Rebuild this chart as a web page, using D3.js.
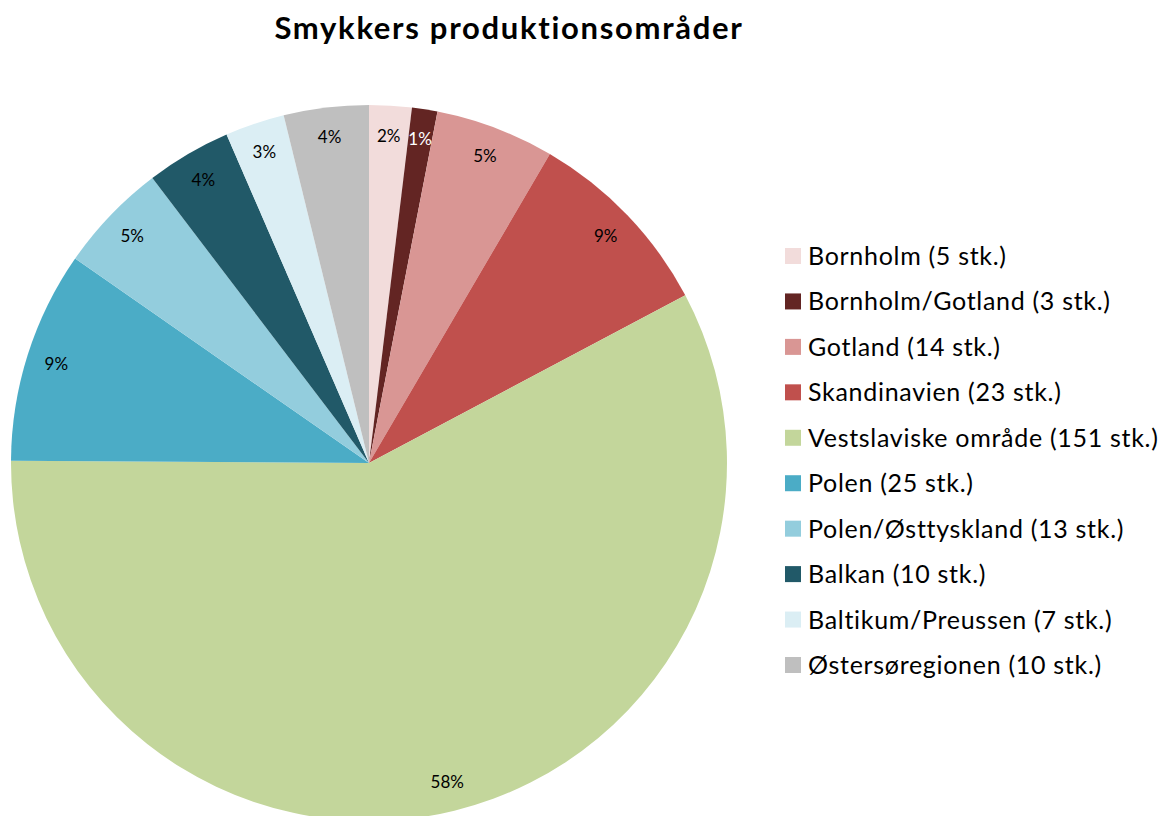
<!DOCTYPE html>
<html>
<head>
<meta charset="utf-8">
<script src="https://cdn.jsdelivr.net/npm/d3@7"></script>
<style>
  html, body { margin: 0; padding: 0; background: #fff; }
  svg { display: block; }
</style>
</head>
<body>
<svg id="chart" width="1166" height="816"></svg>
<script>
// Production areas of the jewellery pieces (count per region)
const regions = [
  "Bornholm", "Bornholm/Gotland", "Gotland", "Skandinavien",
  "Vestslaviske område", "Polen", "Polen/Østtyskland", "Balkan",
  "Baltikum/Preussen", "Østersøregionen"
];
const counts = [5, 3, 14, 23, 151, 25, 13, 10, 7, 10];
const colors = [
  "#F2DCDB", "#632523", "#D99694", "#C0504D", "#C3D69B",
  "#4BACC6", "#93CDDD", "#215968", "#DBEEF4", "#BFBFBF"
];
const labelColors = ["#000", "#fff", "#000", "#000", "#000", "#000", "#000", "#000", "#000", "#000"];

const W = 1166, H = 816;
const cx = 369, cy = 463, R = 358;
const svg = d3.select("#chart");
const FONT = "Lato, 'Open Sans', sans-serif";

// Whole-number percentages that add up to 100 (largest remainder)
function roundedPercents(vals) {
  const total = d3.sum(vals);
  const raw = vals.map(v => v / total * 100);
  const fl = raw.map(Math.floor);
  const left = 100 - d3.sum(fl);
  const order = raw.map((r, i) => [r - fl[i], i]).sort((a, b) => b[0] - a[0]);
  for (let k = 0; k < left; k++) fl[order[k][1]] += 1;
  return fl;
}
const pcts = roundedPercents(counts);

const data = regions.map((name, i) => ({ name, value: counts[i], color: colors[i], pct: pcts[i], lc: labelColors[i] }));

const pie = d3.pie().value(d => d.value).sort(null);
const arcs = pie(data);
const arc = d3.arc().innerRadius(0).outerRadius(R);
const labelArc = d3.arc().innerRadius(328).outerRadius(328);

const g = svg.append("g").attr("transform", `translate(${cx},${cy})`);
g.selectAll("path.slice").data(arcs).join("path")
  .attr("class", "slice")
  .attr("d", arc)
  .attr("fill", d => d.data.color);

g.selectAll("text.pct").data(arcs).join("text")
  .attr("class", "pct")
  .attr("transform", d => `translate(${labelArc.centroid(d)})`)
  .attr("text-anchor", "middle")
  .attr("dy", "0.36em")
  .attr("font-family", FONT)
  .attr("font-size", 17)
  .attr("fill", d => d.data.lc)
  .text(d => d.data.pct + "%");

// Title
svg.append("text")
  .attr("x", 509).attr("y", 39)
  .attr("text-anchor", "middle")
  .attr("font-family", FONT)
  .attr("font-weight", "bold")
  .attr("font-size", 31)
  .attr("letter-spacing", 1.7)
  .attr("fill", "#000")
  .text("Smykkers produktionsområder");

// Legend
const legendY = d3.scalePoint().domain(regions).range([256, 665]);
const items = svg.append("g").selectAll("g").data(data).join("g")
  .attr("transform", d => `translate(785,${legendY(d.name)})`);
items.append("rect")
  .attr("x", 0).attr("y", -8).attr("width", 16).attr("height", 16)
  .attr("fill", d => d.color);
items.append("text")
  .attr("x", 23).attr("y", 9)
  .attr("font-family", FONT)
  .attr("font-size", 25)
  .attr("letter-spacing", 0.7)
  .attr("fill", "#000")
  .text(d => `${d.name} (${d.value} stk.)`);
</script>
</body>
</html>
